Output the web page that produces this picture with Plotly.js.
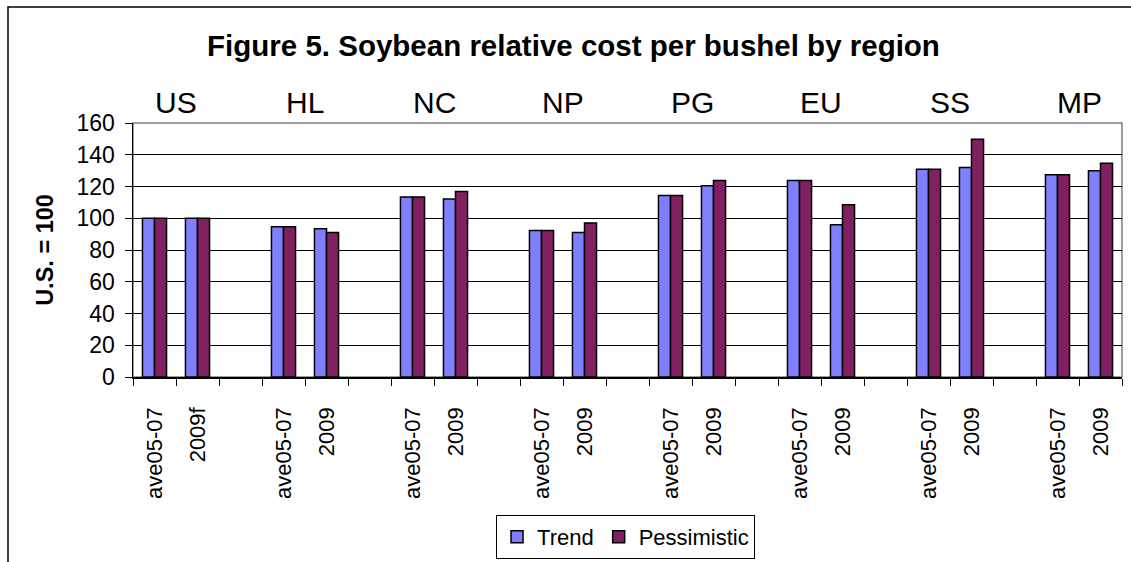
<!DOCTYPE html>
<html>
<head>
<meta charset="utf-8">
<script src="https://cdn.plot.ly/plotly-3.0.1.min.js"></script>
<style>html,body{margin:0;padding:0;background:#fff;}#chart{width:1131px;height:562px;}</style>
</head>
<body>
<div id="chart"></div>
<script>
// ---- data ----
var regions = ["US", "HL", "NC", "NP", "PG", "EU", "SS", "MP"];
var periodLabels = [
  ["ave05-07", "2009f"],
  ["ave05-07", "2009"],
  ["ave05-07", "2009"],
  ["ave05-07", "2009"],
  ["ave05-07", "2009"],
  ["ave05-07", "2009"],
  ["ave05-07", "2009"],
  ["ave05-07", "2009"]
];
var trendValues       = [100, 100, 94.7, 93.4, 113.4, 112.1, 92.3, 91.1, 114.4, 120.5, 123.8, 95.9, 130.8, 132.0, 127.4, 130.0];
var pessimisticValues = [100, 100, 94.7, 91.1, 113.4, 116.9, 92.3, 97.0, 114.4, 123.8, 123.8, 108.5, 130.8, 149.7, 127.4, 134.6];
var yTicks = [0, 20, 40, 60, 80, 100, 120, 140, 160];

// ---- build slots: each region takes 2 category slots, followed by one blank slot ----
var slotsPerGroup = 3;
var nSlots = regions.length * slotsPerGroup - 1;
var xPos = [], tickVals = [], tickText = [];
regions.forEach(function (r, g) {
  periodLabels[g].forEach(function (p, i) {
    var pos = g * slotsPerGroup + i;
    xPos.push(pos);
    tickVals.push(pos);
    tickText.push(p);
  });
});
var boundaries = [];
for (var b = 0; b <= nSlots; b++) boundaries.push(b - 0.5);
var innerGrid = yTicks.slice(1, -1);

var fontFam = "Liberation Sans, Arial, sans-serif";

var traces = [
  {
    type: "bar", name: "Trend", x: xPos, y: trendValues,
    marker: { color: "#8080FF", line: { color: "#000000", width: 1.5 } },
    hoverinfo: "y"
  },
  {
    type: "bar", name: "Pessimistic", x: xPos, y: pessimisticValues,
    marker: { color: "#802060", line: { color: "#000000", width: 1.5 } },
    hoverinfo: "y"
  }
];

var annotations = regions.map(function (r, g) {
  return {
    text: r, xref: "x", yref: "paper",
    x: g * slotsPerGroup + 0.5, y: 1, yanchor: "bottom", xanchor: "center",
    yshift: 2, showarrow: false,
    font: { family: fontFam, size: 30, color: "#000" }
  };
});

var layout = {
  width: 1131, height: 562,
  margin: { l: 133, r: 9, t: 123, b: 185, autoexpand: false },
  paper_bgcolor: "#ffffff", plot_bgcolor: "#ffffff",
  barmode: "group", bargap: 0.44, bargroupgap: 0,
  showlegend: true,
  title: {
    text: "<b>Figure 5. Soybean relative cost per bushel by region</b>",
    font: { family: fontFam, size: 29.5, color: "#000" },
    x: 573.5 / 1131, xanchor: "center", xref: "container",
    y: 1 - 46 / 562, yanchor: "middle"
  },
  xaxis: {
    type: "linear", range: [-0.5, nSlots - 0.5],
    tickmode: "array", tickvals: tickVals, ticktext: tickText,
    tickangle: -90, ticks: "", ticklabelstandoff: 20,
    tickfont: { family: fontFam, size: 22, color: "#000" },
    showgrid: false, zeroline: false,
    showline: true, linecolor: "#000", linewidth: 1.5,
    minor: { tickmode: "array", tickvals: boundaries, ticks: "outside", ticklen: 7, tickcolor: "#000", tickwidth: 1, showgrid: false },
    fixedrange: true
  },
  yaxis: {
    range: [0, 160], tickmode: "array", tickvals: yTicks,
    ticks: "outside", ticklen: 7, tickcolor: "#000", tickwidth: 1,
    ticklabelstandoff: 5,
    tickfont: { family: fontFam, size: 23, color: "#000" },
    showgrid: false,
    minor: { tickmode: "array", tickvals: innerGrid, ticks: "", showgrid: true, gridcolor: "#000", gridwidth: 1 },
    zeroline: false, showline: true, linecolor: "#000", linewidth: 1.5,
    title: { text: "<b>U.S. = 100</b>", font: { family: fontFam, size: 23.5, color: "#000" }, standoff: 16 },
    fixedrange: true
  },
  legend: {
    orientation: "h", x: 0.498, xanchor: "center", y: -0.543, yanchor: "top",
    bordercolor: "#000", borderwidth: 1, bgcolor: "#fff",
    font: { family: fontFam, size: 22, color: "#000" },
    itemclick: false, itemdoubleclick: false
  },
  annotations: annotations,
  shapes: [
    { type: "rect", xref: "paper", yref: "paper", x0: 0, x1: 1, y0: 0, y1: 1,
      line: { color: "#808080", width: 1.5 }, layer: "below" },
    { type: "rect", xref: "paper", yref: "paper", x0: (8 - 133) / 989, x1: 1.05, y0: -0.9, y1: (377 - 7) / 254,
      line: { color: "#000", width: 1.5 }, layer: "below" }
  ]
};

Plotly.newPlot("chart", traces, layout, { displayModeBar: false, staticPlot: true });
</script>
</body>
</html>
